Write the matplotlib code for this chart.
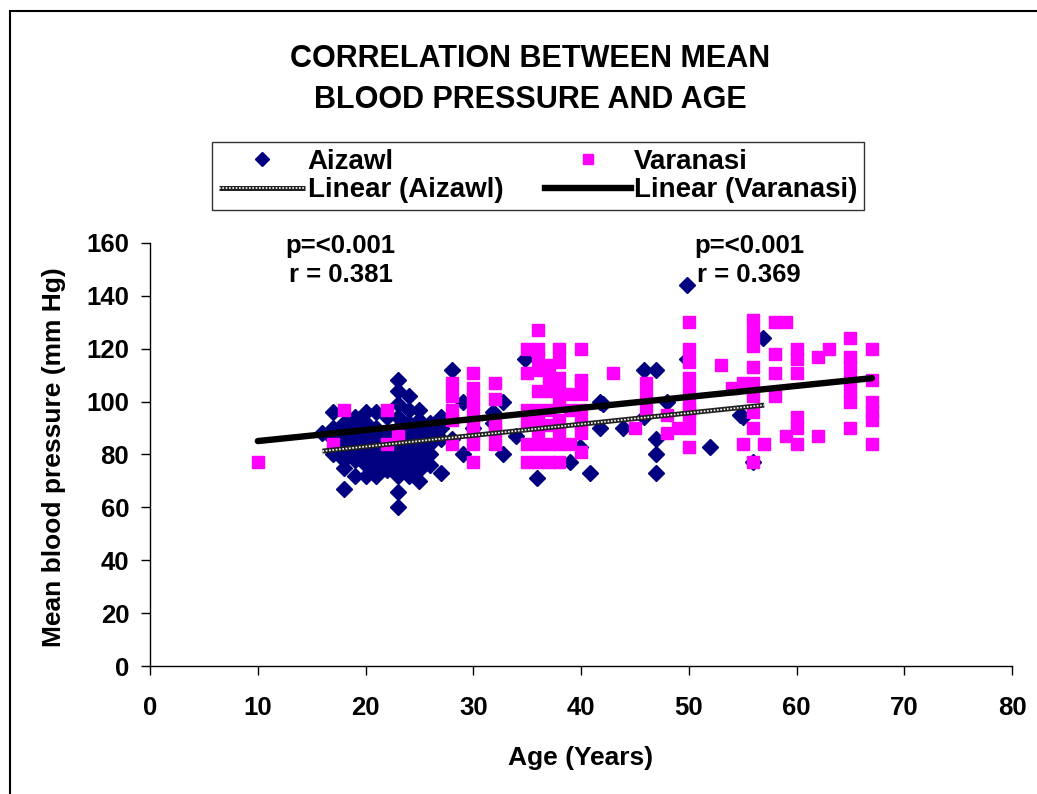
import matplotlib
matplotlib.use("Agg")
import matplotlib.pyplot as plt
from matplotlib.lines import Line2D
from matplotlib.patches import Rectangle
from matplotlib.legend_handler import HandlerTuple
from matplotlib import font_manager
import numpy as np

plt.rcParams['font.family'] = ['Liberation Sans', 'DejaVu Sans']

# ---- data ----
aizawl_age = [16, 17, 17, 17, 17,
              18, 18, 18, 18, 18, 18, 18,
              19, 19, 19, 19, 19, 19,
              20, 20, 20, 20, 20, 20, 20,
              21, 21, 21, 21, 21, 21, 21,
              22, 22, 22, 22, 22, 22, 22,
              23, 23, 23, 23, 23, 23, 23, 23, 23, 23, 23, 23, 23, 23,
              24, 24, 24, 24, 24, 24, 24, 24, 24, 24, 24,
              25, 25, 25, 25, 25, 25, 25, 25,
              26, 26, 26, 26, 26,
              27, 27, 27, 27, 28, 28,
              29, 29, 30, 31.8, 31.8, 32.8, 32.8, 34, 34.8, 35.9, 39, 39.9, 40.8,
              41.8, 41.8, 42, 43.9, 45.8, 45.8, 47, 47, 47, 47, 48, 49.8, 49.8,
              52, 54.8, 55, 56, 56.9]
aizawl_bp = [88, 96, 90, 86, 80,
             92, 88, 84, 80, 78, 75, 67,
             94, 90, 86, 82, 78, 72,
             96, 92, 88, 84, 80, 76, 72,
             96, 90, 86, 82, 78, 74, 72,
             94, 88, 84, 80, 78, 76, 74,
             108, 104, 99, 94, 90, 86, 82, 80, 78, 76, 74, 72, 66, 60,
             102, 97, 92, 88, 84, 82, 80, 78, 76, 74, 72,
             97, 93, 90, 86, 82, 78, 74, 70,
             92, 88, 84, 80, 76,
             94, 90, 86, 73, 112, 86,
             100, 80, 90, 96, 92, 100, 80, 87, 116, 71, 77, 83, 73,
             100, 90, 99, 90, 112, 94, 112, 86, 80, 73, 100, 144, 116,
             83, 95, 94, 77, 124]

varanasi_age = [10, 17, 18, 22, 22, 23,
                28, 28, 28, 28, 28,
                30, 30, 30, 30, 30, 30, 30, 30,
                32, 32, 32, 32, 32,
                35, 35, 35, 35, 35, 35,
                36, 36, 36, 36, 36, 36, 36, 36, 36, 36,
                37, 37, 37, 37, 37, 37, 37,
                38, 38, 38, 38, 38, 38, 38, 38, 38,
                39, 39, 39,
                40, 40, 40, 40, 40, 40, 40, 40,
                43, 45, 46, 46, 46, 48, 48, 49,
                50, 50, 50, 50, 50, 50, 50, 50, 50, 50,
                53, 54, 55, 55,
                56, 56, 56, 56, 56, 56, 56, 56, 56,
                57, 58, 58, 58, 58, 59, 59,
                60, 60, 60, 60, 60, 60, 62, 62, 63,
                65, 65, 65, 65, 65, 65, 65,
                67, 67, 67, 67, 67, 67]
varanasi_bp = [77, 84, 97, 97, 84, 87,
               107, 102, 97, 93, 84,
               111, 105, 101, 97, 92, 88, 84, 77,
               107, 101, 92, 89, 84,
               120, 111, 97, 92, 84, 77,
               127, 120, 117, 112, 104, 97, 92, 87, 84, 77,
               114, 109, 104, 97, 91, 84, 77,
               120, 115, 109, 104, 100, 93, 89, 84, 77,
               103, 97, 84,
               120, 107, 103, 97, 92, 88, 81, 108,
               111, 90, 107, 102, 97, 95, 88, 90,
               130, 120, 115, 109, 104, 99, 97, 94, 90, 83,
               114, 105, 107, 84,
               131, 126, 121, 113, 107, 102, 96, 90, 77,
               84, 130, 118, 111, 102, 130, 87,
               120, 116, 111, 94, 90, 84, 117, 87, 120,
               124, 117, 113, 108, 104, 100, 90,
               120, 108, 100, 96, 93, 84]

# linear trend lines (slope, intercept) and age ranges
aizawl_fit = (0.424, 74.5)
aizawl_range = [16, 57]
varanasi_fit = (0.4175, 80.9)
varanasi_range = [10, 67]

x_ticks = [0, 10, 20, 30, 40, 50, 60, 70, 80]
y_ticks = [0, 20, 40, 60, 80, 100, 120, 140, 160]

stats_left = 'p=<0.001\nr = 0.381'
stats_right = 'p=<0.001\nr = 0.369'

# ---- figure ----
fig = plt.figure(figsize=(10.37, 7.94), dpi=100)
ax = fig.add_axes([0.1447, 0.1612, 0.8312, 0.5328])

ax.plot(aizawl_age, aizawl_bp, linestyle='none', marker='D', ms=8.3,
        color='#000080', mec='#000080', zorder=3)
ax.plot(varanasi_age, varanasi_bp, linestyle='none', marker='s', ms=8.8,
        color='#FF00FF', mec='#FF00FF', zorder=4)

xa = np.array(aizawl_range, dtype=float)
ya = aizawl_fit[0] * xa + aizawl_fit[1]
ax.plot(xa, ya, color='#222222', lw=3.6, solid_capstyle='butt', zorder=5)
ax.plot(xa, ya, color='white', lw=1.2, dashes=(1, 1), zorder=6)

xv = np.array(varanasi_range, dtype=float)
yv = varanasi_fit[0] * xv + varanasi_fit[1]
ax.plot(xv, yv, color='black', lw=4.6, solid_capstyle='round', zorder=7)

ax.set_xlim(0, 80)
ax.set_ylim(0, 160)
ax.set_xticks(x_ticks)
ax.set_yticks(y_ticks)
ax.tick_params(direction='out', length=6.5, width=1, labelsize=18.5)
ax.tick_params(axis='x', pad=15)
ax.tick_params(axis='y', pad=8.5)
for lab in ax.get_xticklabels() + ax.get_yticklabels():
    lab.set_fontweight('bold')
for s in ['top', 'right']:
    ax.spines[s].set_visible(False)
ax.spines['left'].set_linewidth(1)
ax.spines['bottom'].set_linewidth(1)

ax.set_xlabel('Age (Years)', fontsize=19, fontweight='bold')
ax.xaxis.set_label_coords(0.5, -0.188)
ax.set_ylabel('Mean blood pressure (mm Hg)', fontsize=19, fontweight='bold')
ax.yaxis.set_label_coords(-0.097, 0.494)

# title
fig.text(0.511, 0.900, 'CORRELATION BETWEEN MEAN\nBLOOD PRESSURE AND AGE',
         ha='center', va='center', fontsize=22, fontweight='bold', linespacing=1.45)

# annotations (condensed font if available)
names = {f.name for f in font_manager.fontManager.ttflist}
if 'Liberation Sans Narrow' in names:
    ann_family, ann_size = ['Liberation Sans Narrow', 'Liberation Sans'], 21
elif 'DejaVu Sans Condensed' in names:
    ann_family, ann_size = ['DejaVu Sans Condensed', 'Liberation Sans'], 17
else:
    ann_family, ann_size = ['Liberation Sans', 'DejaVu Sans'], 18.5
ax.text(17.7, 163.5, stats_left, ha='center', va='top', fontsize=ann_size,
        fontweight='bold', family=ann_family, linespacing=1.3)
ax.text(55.6, 163.5, stats_right, ha='center', va='top', fontsize=ann_size,
        fontweight='bold', family=ann_family, linespacing=1.3)

# legend
h_a = Line2D([], [], linestyle='none', marker='D', ms=7, color='#000080')
h_v = Line2D([], [], linestyle='none', marker='s', ms=7, color='#FF00FF')
h_la1 = Line2D([], [], color='#222222', lw=3.6, solid_capstyle='butt')
h_la2 = Line2D([], [], color='white', lw=1.2, dashes=(1, 1))
h_lv = Line2D([], [], color='black', lw=4.6)
leg = fig.legend([h_a, (h_la1, h_la2), h_v, h_lv],
                 ['Aizawl', 'Linear (Aizawl)', 'Varanasi', 'Linear (Varanasi)'],
                 handler_map={tuple: HandlerTuple(ndivide=1)},
                 ncol=2, loc='center', bbox_to_anchor=(0.5188, 0.7783),
                 prop={'weight': 'bold', 'size': 20},
                 frameon=True, fancybox=False, edgecolor='black',
                 handlelength=3.1, handletextpad=0.1, columnspacing=1.5,
                 labelspacing=0.1, borderpad=0.25, borderaxespad=0)
leg.get_frame().set_linewidth(1)

# outer border (top-left corner visible)
fig.patches.append(Rectangle((10 / 1037, -0.1), 1.2, 1 - 11 / 794 + 0.1,
                             transform=fig.transFigure, fill=False,
                             edgecolor='black', lw=1.5))

fig.savefig('out.png', dpi=100)
